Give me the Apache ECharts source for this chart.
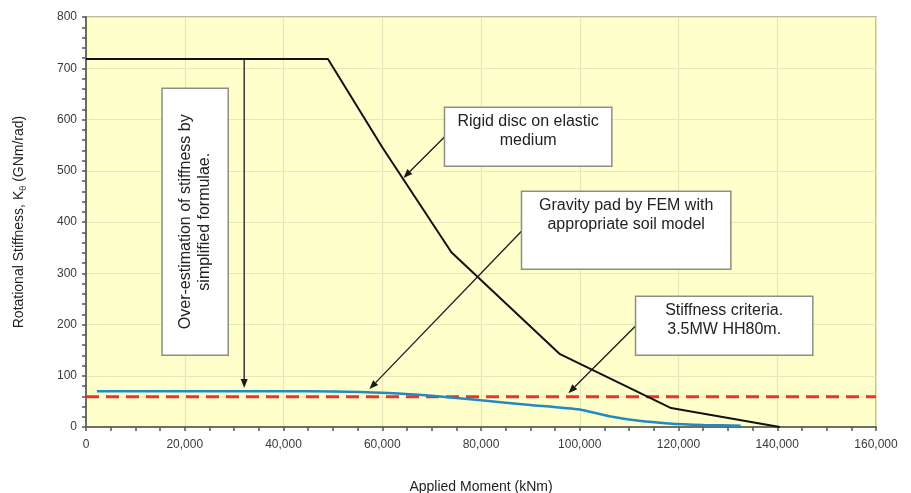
<!DOCTYPE html>
<html>
<head>
<meta charset="utf-8">
<script src="https://cdn.jsdelivr.net/npm/echarts@6/dist/echarts.min.js"></script>
<style>
html,body{margin:0;padding:0;background:#fff;}
#c{width:911px;height:493px;}
</style>
</head>
<body>
<div id="c"></div>
<script>
// ---- data ----
const rigidX = [0, 49000, 60000, 74000, 96000, 118500, 140500];
const rigidY = [718, 718, 546, 341, 142, 37, 0];
const femX = [2200, 20000, 40000, 50000, 60000, 70000, 80000, 90000, 100000, 106000, 112000, 118000, 125000, 132600];
const femY = [70, 70, 70, 69.5, 67, 61, 52, 43, 34, 21, 12, 7, 4, 2.5];
const critX = [0, 160000];
const critY = [59, 59];
const xTickValues = [0, 20000, 40000, 60000, 80000, 100000, 120000, 140000, 160000];
const yTickValues = [0, 100, 200, 300, 400, 500, 600, 700, 800];
const boxTexts = [
  'Over-estimation of stiffness by\nsimplified formulae.',
  'Rigid disc on elastic\nmedium',
  'Gravity pad by FEM with\nappropriate soil model',
  'Stiffness criteria.\n3.5MW HH80m.'
];

const FONT = '"Liberation Sans", Arial, Helvetica, sans-serif';
const zip = (a, b) => a.map((v, i) => [v, b[i]]);

const chart = echarts.init(document.getElementById('c'), null, {renderer: 'canvas'});

chart.setOption({
  animation: false,
  backgroundColor: '#ffffff',
  grid: {
    left: 86, right: 35, top: 17, bottom: 66,
    containLabel: false, outerBoundsMode: 'none',
    show: true, backgroundColor: '#ffffcc', borderColor: '#bdbda2', borderWidth: 2
  },
  xAxis: {
    type: 'value', min: xTickValues[0], max: xTickValues[xTickValues.length - 1], interval: 20000,
    name: 'Applied Moment (kNm)', nameLocation: 'middle', nameGap: 53,
    nameTextStyle: {fontFamily: FONT, fontSize: 14, color: '#222'},
    axisLine: {show: true, onZero: false, lineStyle: {color: '#6f6f60', width: 2}},
    axisTick: {show: true, length: 4, lineStyle: {color: '#555', width: 1.5}},
    minorTick: {show: true, splitNumber: 4, length: 4, lineStyle: {color: '#555', width: 1.5}},
    axisLabel: {
      fontFamily: FONT, fontSize: 12, color: '#3a3a3a', margin: 12,
      formatter: v => v.toLocaleString('en-US')
    },
    splitLine: {show: true, lineStyle: {color: '#e6e6bd', width: 1.2}}
  },
  yAxis: {
    type: 'value', min: yTickValues[0], max: yTickValues[yTickValues.length - 1], interval: 100,
    name: '{a|Rotational Stiffness, K}{s|θ}{a| (GNm/rad)}',
    nameLocation: 'middle', nameGap: 58,
    nameTextStyle: {
      fontFamily: FONT, fontSize: 14, color: '#222',
      rich: {
        a: {fontFamily: FONT, fontSize: 14, color: '#222', lineHeight: 18},
        s: {fontFamily: FONT, fontSize: 9, color: '#222', lineHeight: 18, verticalAlign: 'bottom', padding: [8, 0, 0, 0]}
      }
    },
    axisLine: {show: true, lineStyle: {color: '#6f6f60', width: 2}},
    axisTick: {show: true, length: 4, lineStyle: {color: '#555', width: 1.5}},
    minorTick: {show: true, splitNumber: 5, length: 4, lineStyle: {color: '#555', width: 1.5}},
    axisLabel: {fontFamily: FONT, fontSize: 12, color: '#3a3a3a', margin: 9},
    splitLine: {show: true, lineStyle: {color: '#e6e6bd', width: 1.2}}
  },
  series: [
    {
      name: 'Stiffness criteria', type: 'line', data: zip(critX, critY), symbol: 'none', z: 3,
      lineStyle: {color: '#e8342a', width: 3, type: [13, 7]}
    },
    {
      name: 'Rigid disc', type: 'line', data: zip(rigidX, rigidY), symbol: 'none', z: 4,
      lineStyle: {color: '#111111', width: 2}
    },
    {
      name: 'Gravity pad FEM', type: 'line', data: zip(femX, femY), symbol: 'none', z: 5,
      smooth: 0.2,
      lineStyle: {color: '#2389c2', width: 2.5}
    }
  ]
});

// ---- annotations (placed in data coordinates) ----
const boxes = [
  {x1: 15400, y1: 661, x2: 28800, y2: 140, rot: true},
  {x1: 72600, y1: 624, x2: 106500, y2: 509},
  {x1: 88200, y1: 460, x2: 130600, y2: 308},
  {x1: 111300, y1: 255, x2: 147200, y2: 140}
];
const arrows = [
  {from: [32040, 718], to: [32040, 76]},
  {from: [72600, 566], to: [64300, 486]},
  {from: [88200, 382], to: [57400, 74]},
  {from: [111300, 197], to: [97700, 66]}
];

const toPx = p => chart.convertToPixel({gridIndex: 0}, p);
const g = [];
arrows.forEach(a => {
  const p1 = toPx(a.from), p2 = toPx(a.to);
  const dx = p2[0] - p1[0], dy = p2[1] - p1[1];
  const L = Math.hypot(dx, dy), ux = dx / L, uy = dy / L;
  const hl = 9, hw = 3.5;
  const bx = p2[0] - ux * hl, by = p2[1] - uy * hl;
  g.push({type: 'line', z: 20, silent: true,
    shape: {x1: p1[0], y1: p1[1], x2: bx, y2: by},
    style: {stroke: '#1a1a1a', lineWidth: 1.3}});
  g.push({type: 'polygon', z: 20, silent: true,
    shape: {points: [[p2[0], p2[1]], [bx - uy * hw, by + ux * hw], [bx + uy * hw, by - ux * hw]]},
    style: {fill: '#1a1a1a'}});
});
boxes.forEach((b, i) => {
  const a = toPx([b.x1, b.y1]), c = toPx([b.x2, b.y2]);
  const x = Math.min(a[0], c[0]), y = Math.min(a[1], c[1]);
  const w = Math.abs(c[0] - a[0]), h = Math.abs(c[1] - a[1]);
  g.push({type: 'rect', z: 30, silent: true,
    shape: {x: x, y: y, width: w, height: h},
    style: {fill: '#ffffff', stroke: '#8e8e84', lineWidth: 1.5}});
  const cx = x + w / 2;
  const cy = b.rot ? y + h / 2 : y + 24;
  g.push({type: 'text', z: 31, silent: true,
    x: cx, y: cy, rotation: b.rot ? Math.PI / 2 : 0,
    style: {text: boxTexts[i], fontFamily: FONT, fontSize: 16, lineHeight: 19,
      fill: '#222', align: 'center', verticalAlign: 'middle'}});
});
chart.setOption({graphic: g});
</script>
</body>
</html>
